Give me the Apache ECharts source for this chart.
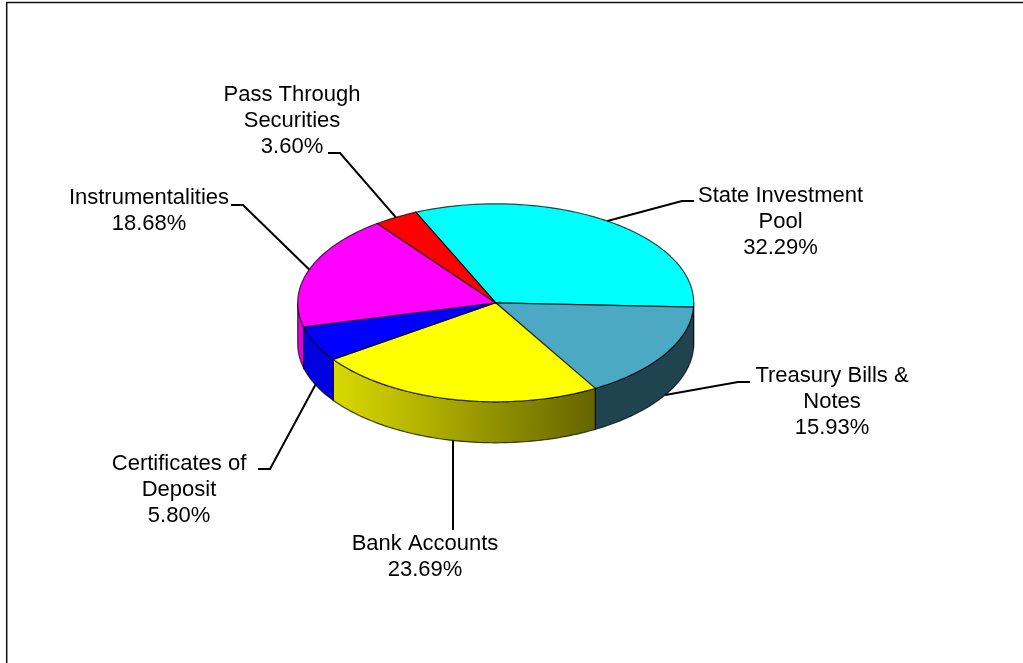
<!DOCTYPE html>
<html><head><meta charset="utf-8">
<style>html,body{margin:0;padding:0;background:#fff}#c{width:1023px;height:663px}</style>
<script src="https://cdn.jsdelivr.net/npm/echarts@6/dist/echarts.min.js"></script>
</head><body><div id="c"></div>
<script>
const categories = ['State Investment\nPool','Treasury Bills &\nNotes','Bank Accounts','Certificates of\nDeposit','Instrumentalities','Pass Through\nSecurities'];
const values = [32.29,15.93,23.69,5.80,18.68,3.60];
const topColors = ['#00FFFF','#4BA9C3','#FFFF00','#0000FF','#FF00FF','#FF0000'];
const wallColors = ['#008888','#1F4450',['#DADA00','#646400'],'#0000E0','#E000E0','#AA0000'];
// label layout: elbow point and label centre, one per slice
const elbows = [[682,201,694,201],[738,382,750,382],[453,530,453,530],[270,469,258,469],[243,205,231,205],[340,153,328,153]];
const labelCentres = [[780.5,222],[832,401.5],[425,557],[179,489.5],[149,210.5],[292,121]];

const CX=495.7, CY=302.8, RX=198, RY=99, DEPTH=41, START=-113.8;
const TOTAL = values.reduce((a,b)=>a+b,0);
const rim=(deg,dy)=>{const r=deg*Math.PI/180;return [CX+RX*Math.cos(r),CY+RY*Math.sin(r)+(dy||0)];};
const arc=(a,b,dy)=>{const n=Math.max(2,Math.ceil(Math.abs(b-a)));const p=[];for(let i=0;i<=n;i++)p.push(rim(a+(b-a)*i/n,dy));return p;};
const font='22px "Liberation Sans", Arial, sans-serif';
const EDGE='rgba(0,0,0,0.72)';

function renderItem(params, api){
  const i=params.dataIndex;
  let before=0; for(let k=0;k<i;k++) before+=values[k];
  const a=START+before/TOTAL*360, b=a+api.value(1)/TOTAL*360, mid=(a+b)/2;
  const children=[];
  const norm=x=>((x%360)+360)%360;
  const lo=Math.max(a,0), hi=Math.min(b,180);
  const lo2=Math.max(a,360), hi2=Math.min(b,540);
  [[lo,hi],[lo2,hi2]].forEach(([s,e])=>{
    if(e>s){
      const w=wallColors[i];
      const fill=Array.isArray(w)?new echarts.graphic.LinearGradient(0,0,1,0,[{offset:0,color:w[0]},{offset:1,color:w[1]}]):w;
      children.push({type:'polygon',shape:{points:arc(s,e,0).concat(arc(e,s,DEPTH))},style:{fill:fill,stroke:EDGE,lineWidth:1.2}});
    }
  });
  children.push({type:'polygon',shape:{points:[[CX,CY]].concat(arc(a,b,0))},style:{fill:topColors[i],stroke:EDGE,lineWidth:1.2}});
  const m=norm(mid);
  const s=rim(mid,(m>0&&m<180)?DEPTH:0), el=elbows[i];
  children.push({type:'polyline',shape:{points:[s,[el[0],el[1]],[el[2],el[3]]]},style:{fill:null,stroke:'#000',lineWidth:2}});
  const c=labelCentres[i];
  children.push({type:'text',style:{x:c[0],y:c[1],text:api.value(0)+'\n'+api.value(1).toFixed(2)+'%',fill:'#000',font:font,align:'center',verticalAlign:'middle',lineHeight:26}});
  return {type:'group',children:children};
}

const chart=echarts.init(document.getElementById('c'),null,{renderer:'canvas'});
chart.setOption({
  animation:false,
  backgroundColor:'#fff',
  graphic:[{type:'polyline',silent:true,shape:{points:[[6.7,663],[6.7,2.6],[1023,2.6]]},style:{fill:null,stroke:'#111',lineWidth:1.5}}],
  series:[{type:'custom',coordinateSystem:'none',clip:false,renderItem:renderItem,
    encode:{itemName:0,value:1},
    data:categories.map((c,i)=>[c,values[i]])}]
});
</script></body></html>
